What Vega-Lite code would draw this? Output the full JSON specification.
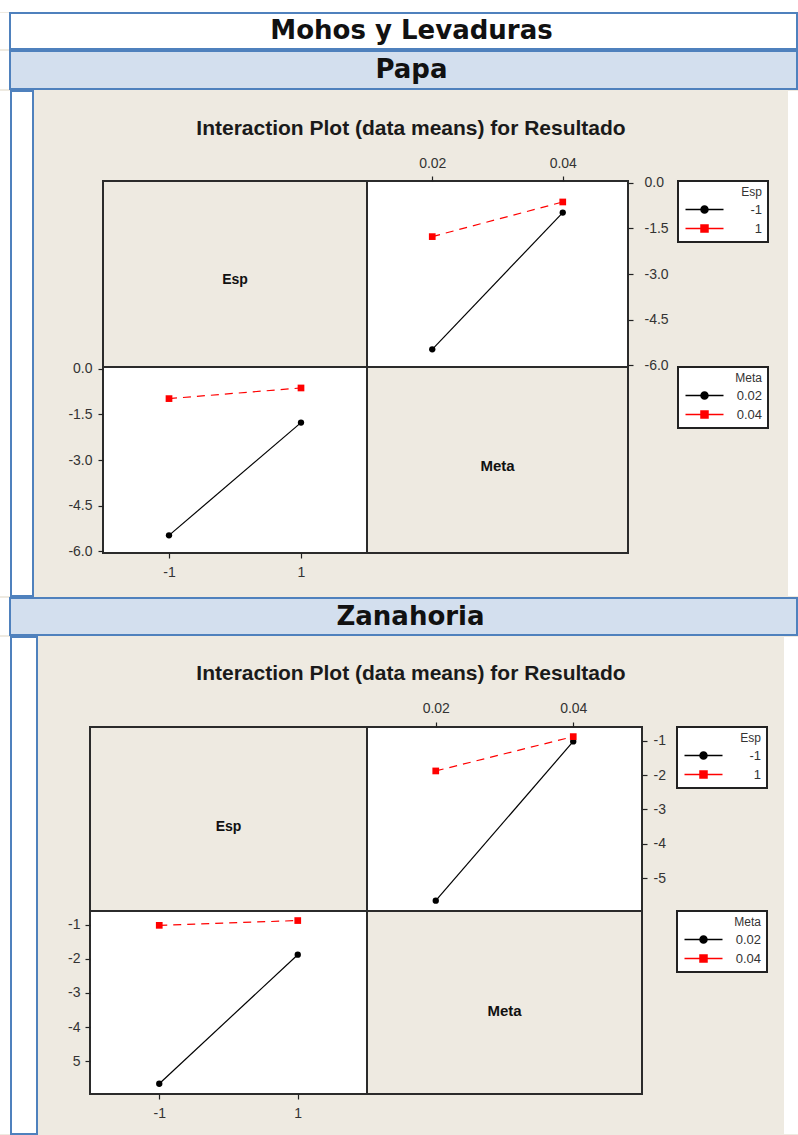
{
  "$schema": "https://vega.github.io/schema/vega-lite/v6.json",
  "background": "#eeeae1",
  "padding": 0,
  "autosize": {"type": "pad"},
  "spacing": 0,
  "resolve": {"scale": {"fill": "independent", "stroke": "independent", "shape": "independent"}},
  "datasets": {
    "means": [
      {"Producto": "Papa", "Esp": -1, "Meta": 0.02, "Resultado": -5.48},
      {"Producto": "Papa", "Esp": 1, "Meta": 0.02, "Resultado": -1.77},
      {"Producto": "Papa", "Esp": -1, "Meta": 0.04, "Resultado": -0.98},
      {"Producto": "Papa", "Esp": 1, "Meta": 0.04, "Resultado": -0.63},
      {"Producto": "Zanahoria", "Esp": -1, "Meta": 0.02, "Resultado": -5.66},
      {"Producto": "Zanahoria", "Esp": 1, "Meta": 0.02, "Resultado": -1.88},
      {"Producto": "Zanahoria", "Esp": -1, "Meta": 0.04, "Resultado": -1.02},
      {"Producto": "Zanahoria", "Esp": 1, "Meta": 0.04, "Resultado": -0.88}
    ]
  },
  "vconcat": [
    {"width": 798, "height": 12, "view": {"fill": "white", "stroke": null}, "data": {"values": []}, "mark": "point"},
    {
      "hconcat": [
        {"width": 10, "height": 36, "view": {"fill": "white", "stroke": null}, "data": {"values": []}, "mark": "point"},
        {"width": 787, "height": 36, "view": {"fill": "white", "stroke": "#4f81bd", "strokeWidth": 2},
         "data": {"values": [{"label": "Mohos y Levaduras"}]},
         "mark": {"type": "text", "font": "DejaVu Sans", "fontWeight": "bold", "fontSize": 26, "color": "#111", "dx": 8},
         "encoding": {"text": {"field": "label"}}}
      ], "spacing": 0, "bounds": "flush"
    },
    {
      "hconcat": [
        {"width": 10, "height": 38, "view": {"fill": "white", "stroke": null}, "data": {"values": []}, "mark": "point"},
        {"width": 787, "height": 38, "view": {"fill": "#d3dfee", "stroke": "#4f81bd", "strokeWidth": 2},
         "data": {"values": [{"label": "Papa"}]},
         "mark": {"type": "text", "font": "DejaVu Sans", "fontWeight": "bold", "fontSize": 26, "color": "#111", "dx": 8},
         "encoding": {"text": {"field": "label"}}}
      ], "spacing": 0, "bounds": "flush"
    },
    {
      "hconcat": [
        {"width": 10, "height": 505, "view": {"fill": "white", "stroke": null}, "data": {"values": []}, "mark": "point"},
        {"width": 22, "height": 505, "view": {"fill": "white", "stroke": "#4f81bd", "strokeWidth": 2}, "data": {"values": []}, "mark": "point"},
        {
          "vconcat": [
            {"width": 754, "height": 90, "data": {"values": [{"label": "Interaction Plot (data means) for Resultado"}]},
             "mark": {"type": "text", "font": "Liberation Sans", "fontWeight": "bold", "fontSize": 21, "color": "#1a1a1a", "dy": -7},
             "encoding": {"text": {"field": "label"}}},
            {
              "columns": 3,
              "concat": [
                {"width": 69, "height": 186, "data": {"values": []}, "mark": "point"},
                {"width": 264, "height": 186, "view": {"fill": "#eeeae1", "stroke": "#2b2b2b", "strokeWidth": 2},
                 "data": {"values": [{"label": "Esp"}]},
                 "mark": {"type": "text", "font": "Liberation Sans", "fontWeight": "bold", "fontSize": 14, "color": "#111", "dy": 6},
                 "encoding": {"text": {"field": "label"}}},
                {
                  "width": 261, "height": 186,
                  "view": {"fill": "white", "stroke": "#2b2b2b", "strokeWidth": 2},
                  "data": {"name": "means"},
                  "transform": [{"filter": "datum.Producto === 'Papa'"}],
                  "encoding": {
                    "x": {"field": "Meta", "type": "quantitative", "title": null, "scale": {"domain": [0.01, 0.05], "nice": false, "zero": false}, "axis": {"orient": "top", "values": [0.02, 0.04], "format": ".2f", "labelPadding": 6}},
                    "y": {"field": "Resultado", "type": "quantitative", "title": null, "scale": {"domain": [-6.06, 0.06], "nice": false, "zero": false}, "axis": {"orient": "right", "values": [0, -1.5, -3, -4.5, -6], "format": ".1f", "labelPadding": 11}}
                  },
                  "layer": [
                    {"transform": [{"filter": "datum.Esp === -1"}], "mark": {"type": "line", "color": "#000000", "strokeWidth": 1.2}},
                    {"transform": [{"filter": "datum.Esp === 1"}], "mark": {"type": "line", "color": "#ff0000", "strokeWidth": 1.2, "strokeDash": [8, 6]}},
                    {"transform": [{"filter": "datum.Esp === -1"}], "mark": {"type": "point", "shape": "circle", "filled": true, "size": 40, "color": "#000000", "opacity": 1}},
                    {"transform": [{"filter": "datum.Esp === 1"}], "mark": {"type": "point", "shape": "square", "filled": true, "size": 45, "color": "#ff0000", "opacity": 1}},
                    {"transform": [{"filter": "false"}], "mark": {"type": "point", "filled": true, "opacity": 1, "strokeWidth": 1.5, "size": 100},
                     "encoding": {
                       "fill": {"field": "Esp", "type": "nominal", "scale": {"domain": [-1, 1], "range": ["#000000", "#ff0000"]}, "legend": {"title": "Esp", "orient": "none", "legendX": 311, "legendY": 0}},
                       "stroke": {"field": "Esp", "type": "nominal", "scale": {"domain": [-1, 1], "range": ["#000000", "#ff0000"]}, "legend": {"title": "Esp", "orient": "none", "legendX": 311, "legendY": 0}},
                       "shape": {"field": "Esp", "type": "nominal", "scale": {"domain": [-1, 1], "range": ["M-3.8,0H3.8M0.7,0A0.7,0.7,0,1,1,-0.7,0A0.7,0.7,0,1,1,0.7,0Z", "M-3.8,0H3.8M-0.7,-0.7H0.7V0.7H-0.7Z"]}, "legend": {"title": "Esp", "orient": "none", "legendX": 311, "legendY": 0}}
                     }}
                  ]
                },
                {"width": 69, "height": 186, "data": {"values": []}, "mark": "point"},
                {
                  "width": 264, "height": 186,
                  "view": {"fill": "white", "stroke": "#2b2b2b", "strokeWidth": 2},
                  "data": {"name": "means"},
                  "transform": [{"filter": "datum.Producto === 'Papa'"}],
                  "encoding": {
                    "x": {"field": "Esp", "type": "quantitative", "title": null, "scale": {"domain": [-2, 2], "nice": false, "zero": false}, "axis": {"orient": "bottom", "values": [-1, 1], "format": "d", "labelPadding": 7}},
                    "y": {"field": "Resultado", "type": "quantitative", "title": null, "scale": {"domain": [-6.06, 0.06], "nice": false, "zero": false}, "axis": {"orient": "left", "values": [0, -1.5, -3, -4.5, -6], "format": ".1f", "labelPadding": 6}}
                  },
                  "layer": [
                    {"transform": [{"filter": "datum.Meta === 0.02"}], "mark": {"type": "line", "color": "#000000", "strokeWidth": 1.2}},
                    {"transform": [{"filter": "datum.Meta === 0.04"}], "mark": {"type": "line", "color": "#ff0000", "strokeWidth": 1.2, "strokeDash": [8, 6]}},
                    {"transform": [{"filter": "datum.Meta === 0.02"}], "mark": {"type": "point", "shape": "circle", "filled": true, "size": 40, "color": "#000000", "opacity": 1}},
                    {"transform": [{"filter": "datum.Meta === 0.04"}], "mark": {"type": "point", "shape": "square", "filled": true, "size": 45, "color": "#ff0000", "opacity": 1}},
                    {"transform": [{"filter": "false"}], "mark": {"type": "point", "filled": true, "opacity": 1, "strokeWidth": 1.5, "size": 100},
                     "encoding": {
                       "fill": {"field": "Meta", "type": "nominal", "scale": {"domain": [0.02, 0.04], "range": ["#000000", "#ff0000"]}, "legend": {"title": "Meta", "orient": "none", "legendX": 575, "legendY": 0}},
                       "stroke": {"field": "Meta", "type": "nominal", "scale": {"domain": [0.02, 0.04], "range": ["#000000", "#ff0000"]}, "legend": {"title": "Meta", "orient": "none", "legendX": 575, "legendY": 0}},
                       "shape": {"field": "Meta", "type": "nominal", "scale": {"domain": [0.02, 0.04], "range": ["M-3.8,0H3.8M0.7,0A0.7,0.7,0,1,1,-0.7,0A0.7,0.7,0,1,1,0.7,0Z", "M-3.8,0H3.8M-0.7,-0.7H0.7V0.7H-0.7Z"]}, "legend": {"title": "Meta", "orient": "none", "legendX": 575, "legendY": 0}}
                     }}
                  ]
                },
                {"width": 261, "height": 186, "view": {"fill": "#eeeae1", "stroke": "#2b2b2b", "strokeWidth": 2},
                 "data": {"values": [{"label": "Meta"}]},
                 "mark": {"type": "text", "font": "Liberation Sans", "fontWeight": "bold", "fontSize": 15, "color": "#111", "dy": 6},
                 "encoding": {"text": {"field": "label"}}}
              ],
              "spacing": 0, "bounds": "flush",
              "resolve": {"scale": {"fill": "independent", "stroke": "independent", "shape": "independent"}}
            }
          ],
          "spacing": 0, "bounds": "flush",
          "resolve": {"scale": {"fill": "independent", "stroke": "independent", "shape": "independent"}}
        },
        {"width": 10, "height": 505, "view": {"fill": "white", "stroke": null}, "data": {"values": []}, "mark": "point"}
      ],
      "spacing": 0,
      "resolve": {"scale": {"fill": "independent", "stroke": "independent", "shape": "independent"}}
    },
    {
      "hconcat": [
        {"width": 10, "height": 37, "view": {"fill": "white", "stroke": null}, "data": {"values": []}, "mark": "point"},
        {"width": 787, "height": 37, "view": {"fill": "#d3dfee", "stroke": "#4f81bd", "strokeWidth": 2},
         "data": {"values": [{"label": "Zanahoria"}]},
         "mark": {"type": "text", "font": "DejaVu Sans", "fontWeight": "bold", "fontSize": 26, "color": "#111", "dx": 7},
         "encoding": {"text": {"field": "label"}}}
      ], "spacing": 0, "bounds": "flush"
    },
    {
      "hconcat": [
        {"width": 10, "height": 497, "view": {"fill": "white", "stroke": null}, "data": {"values": []}, "mark": "point"},
        {"width": 26, "height": 497, "view": {"fill": "white", "stroke": "#4f81bd", "strokeWidth": 2}, "data": {"values": []}, "mark": "point"},
        {
          "vconcat": [
            {"width": 746, "height": 90, "data": {"values": [{"label": "Interaction Plot (data means) for Resultado"}]},
             "mark": {"type": "text", "font": "Liberation Sans", "fontWeight": "bold", "fontSize": 21, "color": "#1a1a1a", "dy": -8},
             "encoding": {"text": {"field": "label"}}},
            {
              "columns": 3,
              "concat": [
                {"width": 52, "height": 184, "data": {"values": []}, "mark": "point"},
                {"width": 277, "height": 184, "view": {"fill": "#eeeae1", "stroke": "#2b2b2b", "strokeWidth": 2},
                 "data": {"values": [{"label": "Esp"}]},
                 "mark": {"type": "text", "font": "Liberation Sans", "fontWeight": "bold", "fontSize": 14, "color": "#111", "dy": 8},
                 "encoding": {"text": {"field": "label"}}},
                {
                  "width": 275, "height": 184,
                  "view": {"fill": "white", "stroke": "#2b2b2b", "strokeWidth": 2},
                  "data": {"name": "means"},
                  "transform": [{"filter": "datum.Producto === 'Zanahoria'"}],
                  "encoding": {
                    "x": {"field": "Meta", "type": "quantitative", "title": null, "scale": {"domain": [0.01, 0.05], "nice": false, "zero": false}, "axis": {"orient": "top", "values": [0.02, 0.04], "format": ".2f", "labelPadding": 7}},
                    "y": {"field": "Resultado", "type": "quantitative", "title": null, "scale": {"domain": [-5.96, -0.6], "nice": false, "zero": false}, "axis": {"orient": "right", "values": [-1, -2, -3, -4, -5], "format": "d", "labelPadding": 6}}
                  },
                  "layer": [
                    {"transform": [{"filter": "datum.Esp === -1"}], "mark": {"type": "line", "color": "#000000", "strokeWidth": 1.2}},
                    {"transform": [{"filter": "datum.Esp === 1"}], "mark": {"type": "line", "color": "#ff0000", "strokeWidth": 1.2, "strokeDash": [8, 6]}},
                    {"transform": [{"filter": "datum.Esp === -1"}], "mark": {"type": "point", "shape": "circle", "filled": true, "size": 40, "color": "#000000", "opacity": 1}},
                    {"transform": [{"filter": "datum.Esp === 1"}], "mark": {"type": "point", "shape": "square", "filled": true, "size": 45, "color": "#ff0000", "opacity": 1}},
                    {"transform": [{"filter": "false"}], "mark": {"type": "point", "filled": true, "opacity": 1, "strokeWidth": 1.5, "size": 100},
                     "encoding": {
                       "fill": {"field": "Esp", "type": "nominal", "scale": {"domain": [-1, 1], "range": ["#000000", "#ff0000"]}, "legend": {"title": "Esp", "orient": "none", "legendX": 310, "legendY": 0}},
                       "stroke": {"field": "Esp", "type": "nominal", "scale": {"domain": [-1, 1], "range": ["#000000", "#ff0000"]}, "legend": {"title": "Esp", "orient": "none", "legendX": 310, "legendY": 0}},
                       "shape": {"field": "Esp", "type": "nominal", "scale": {"domain": [-1, 1], "range": ["M-3.8,0H3.8M0.7,0A0.7,0.7,0,1,1,-0.7,0A0.7,0.7,0,1,1,0.7,0Z", "M-3.8,0H3.8M-0.7,-0.7H0.7V0.7H-0.7Z"]}, "legend": {"title": "Esp", "orient": "none", "legendX": 310, "legendY": 0}}
                     }}
                  ]
                },
                {"width": 52, "height": 183, "data": {"values": []}, "mark": "point"},
                {
                  "width": 277, "height": 183,
                  "view": {"fill": "white", "stroke": "#2b2b2b", "strokeWidth": 2},
                  "data": {"name": "means"},
                  "transform": [{"filter": "datum.Producto === 'Zanahoria'"}],
                  "encoding": {
                    "x": {"field": "Esp", "type": "quantitative", "title": null, "scale": {"domain": [-2, 2], "nice": false, "zero": false}, "axis": {"orient": "bottom", "values": [-1, 1], "format": "d", "labelPadding": 7}},
                    "y": {"field": "Resultado", "type": "quantitative", "title": null, "scale": {"domain": [-5.96, -0.6], "nice": false, "zero": false}, "axis": {"orient": "left", "values": [-1, -2, -3, -4, -5], "format": "d", "labelPadding": 5, "labelExpr": "datum.value === -5 ? '5' : datum.label"}}
                  },
                  "layer": [
                    {"transform": [{"filter": "datum.Meta === 0.02"}], "mark": {"type": "line", "color": "#000000", "strokeWidth": 1.2}},
                    {"transform": [{"filter": "datum.Meta === 0.04"}], "mark": {"type": "line", "color": "#ff0000", "strokeWidth": 1.2, "strokeDash": [8, 6]}},
                    {"transform": [{"filter": "datum.Meta === 0.02"}], "mark": {"type": "point", "shape": "circle", "filled": true, "size": 40, "color": "#000000", "opacity": 1}},
                    {"transform": [{"filter": "datum.Meta === 0.04"}], "mark": {"type": "point", "shape": "square", "filled": true, "size": 45, "color": "#ff0000", "opacity": 1}},
                    {"transform": [{"filter": "false"}], "mark": {"type": "point", "filled": true, "opacity": 1, "strokeWidth": 1.5, "size": 100},
                     "encoding": {
                       "fill": {"field": "Meta", "type": "nominal", "scale": {"domain": [0.02, 0.04], "range": ["#000000", "#ff0000"]}, "legend": {"title": "Meta", "orient": "none", "legendX": 587, "legendY": 0}},
                       "stroke": {"field": "Meta", "type": "nominal", "scale": {"domain": [0.02, 0.04], "range": ["#000000", "#ff0000"]}, "legend": {"title": "Meta", "orient": "none", "legendX": 587, "legendY": 0}},
                       "shape": {"field": "Meta", "type": "nominal", "scale": {"domain": [0.02, 0.04], "range": ["M-3.8,0H3.8M0.7,0A0.7,0.7,0,1,1,-0.7,0A0.7,0.7,0,1,1,0.7,0Z", "M-3.8,0H3.8M-0.7,-0.7H0.7V0.7H-0.7Z"]}, "legend": {"title": "Meta", "orient": "none", "legendX": 587, "legendY": 0}}
                     }}
                  ]
                },
                {"width": 275, "height": 183, "view": {"fill": "#eeeae1", "stroke": "#2b2b2b", "strokeWidth": 2},
                 "data": {"values": [{"label": "Meta"}]},
                 "mark": {"type": "text", "font": "Liberation Sans", "fontWeight": "bold", "fontSize": 15, "color": "#111", "dy": 8},
                 "encoding": {"text": {"field": "label"}}}
              ],
              "spacing": 0, "bounds": "flush",
              "resolve": {"scale": {"fill": "independent", "stroke": "independent", "shape": "independent"}}
            }
          ],
          "spacing": 0, "bounds": "flush",
          "resolve": {"scale": {"fill": "independent", "stroke": "independent", "shape": "independent"}}
        },
        {"width": 14, "height": 497, "view": {"fill": "white", "stroke": null}, "data": {"values": []}, "mark": "point"}
      ],
      "spacing": 0,
      "resolve": {"scale": {"fill": "independent", "stroke": "independent", "shape": "independent"}}
    }
  ],
  "config": {
    "view": {"stroke": null},
    "concat": {"spacing": 0},
    "locale": {"number": {"decimal": ".", "thousands": ",", "grouping": [3], "currency": ["$", ""], "minus": "-"}},
    "axis": {"grid": false, "domain": false, "tickColor": "#222", "tickSize": 5, "tickWidth": 1.2, "labelFont": "Liberation Sans", "labelFontSize": 14, "labelColor": "#333"},
    "legend": {
      "titleFont": "Liberation Sans", "titleFontSize": 12, "titleFontWeight": "normal", "titleAnchor": "end", "titleColor": "#333", "titlePadding": 4,
      "labelFont": "Liberation Sans", "labelFontSize": 13, "labelColor": "#333", "labelAlign": "right",
      "strokeColor": "#222", "strokeWidth": 2, "fillColor": "white", "padding": 6, "symbolOpacity": 1,
      "symbolSize": 100, "symbolStrokeWidth": 1.5, "symbolOffset": 14, "labelOffset": 51, "rowPadding": 5
    }
  }
}
